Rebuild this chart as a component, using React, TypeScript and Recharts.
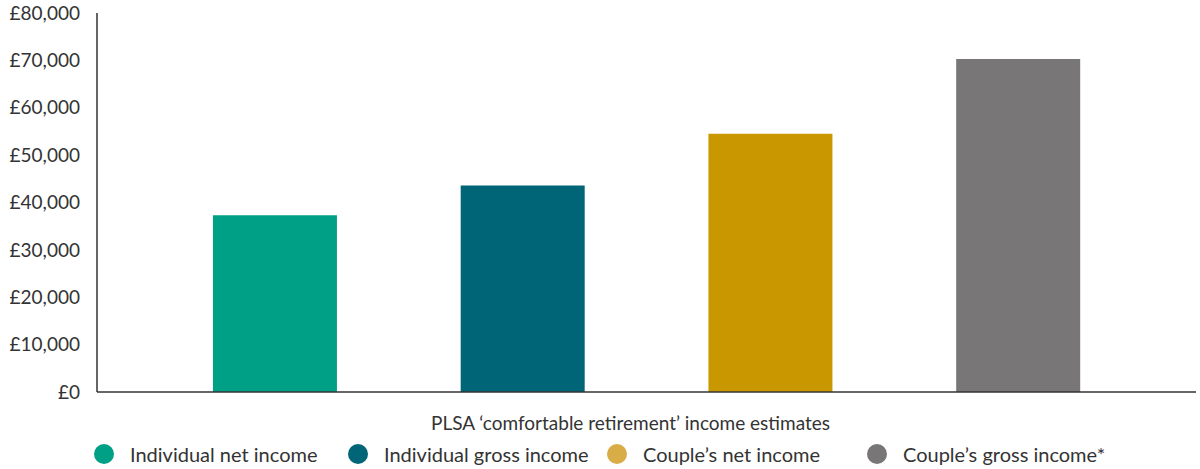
import { BarChart, Bar, XAxis, YAxis, Cell, Label } from "recharts"

const categories = [
  "Individual net income",
  "Individual gross income",
  "Couple’s net income",
  "Couple’s gross income*",
]
const incomeValues = [37300, 43600, 54500, 70300]
const yTicks = [0, 10000, 20000, 30000, 40000, 50000, 60000, 70000, 80000]
const barColors = ["#00A086", "#006577", "#C99700", "#787677"]
const legendColors = ["#00A086", "#006577", "#D8AC46", "#787677"]
const axisTitle = "PLSA ‘comfortable retirement’ income estimates"

const data = categories.map((name, i) => ({ name, value: incomeValues[i] }))

const FONT = "Lato, 'Noto Sans', sans-serif"

const formatPounds = (v: number) => `£${v.toLocaleString("en-GB")}`

// legend drawn as plain html below the plot
const ChartLegend = () => {
  const starts = [94, 348, 607, 867]
  return (
    <div style={{ position: "absolute", left: 0, top: 440, width: 1200, height: 30, fontFamily: FONT }}>
      {categories.map((name, i) => (
        <div
          key={name}
          style={{ position: "absolute", left: starts[i], top: 0, display: "flex", alignItems: "center" }}
        >
          <span
            style={{
              width: 20,
              height: 20,
              borderRadius: "50%",
              background: legendColors[i],
              display: "inline-block",
              marginRight: 16,
            }}
          />
          <span style={{ fontSize: 20, color: "#333", lineHeight: "28px" }}>{name}</span>
        </div>
      ))}
    </div>
  )
}

export default function App() {
  return (
    <div style={{ position: "absolute", left: 0, top: 0, width: 1200, height: 469, background: "#fff" }}>
      <BarChart
        width={1200}
        height={469}
        data={data}
        margin={{ top: 13, right: 4, left: 0, bottom: 76 }}
        barCategoryGap="25%"
      >
        <XAxis
          dataKey="name"
          tick={false}
          tickLine={false}
          height={1}
          axisLine={{ stroke: "#333", strokeWidth: 1.5 }}
          padding={{ left: 54, right: 54 }}
        >
          <Label
            value={axisTitle}
            position="insideBottom"
            offset={-37}
            dx={-16}
            style={{ fontFamily: FONT, fontSize: 19, fill: "#333" }}
          />
        </XAxis>
        <YAxis
          width={97}
          domain={[0, 80000]}
          ticks={yTicks}
          tickFormatter={formatPounds}
          tickLine={false}
          tickSize={0}
          tickMargin={17}
          axisLine={{ stroke: "#333", strokeWidth: 1.5 }}
          tick={{ fontFamily: FONT, fontSize: 19, fill: "#333" }}
        />
        <Bar dataKey="value" isAnimationActive={false}>
          {data.map((d, i) => (
            <Cell key={d.name} fill={barColors[i]} />
          ))}
        </Bar>
      </BarChart>
      <ChartLegend />
    </div>
  )
}
